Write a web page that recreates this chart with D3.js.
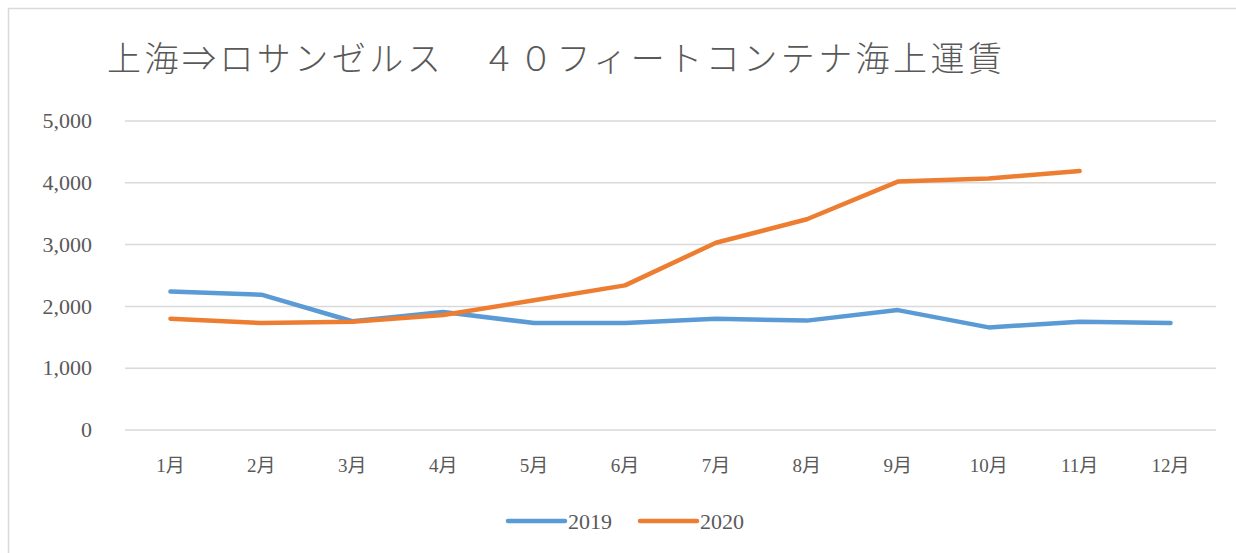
<!DOCTYPE html>
<html><head><meta charset="utf-8">
<script src="https://cdn.jsdelivr.net/npm/d3@7"></script>
<style>body{margin:0;background:#fff}svg{display:block}</style>
</head><body>
<script>
const months = ["1月","2月","3月","4月","5月","6月","7月","8月","9月","10月","11月","12月"];
const s2019 = [2240,2190,1760,1910,1730,1730,1800,1770,1940,1660,1750,1730];
const s2020 = [1800,1730,1750,1860,2100,2340,3030,3410,4020,4070,4190];
const yTicks = [0,1000,2000,3000,4000,5000];
const seriesNames = ["2019","2020"];
const colors = ["#5B9BD5","#ED7D31"];
const title = "上海⇒ロサンゼルス　４０フィートコンテナ海上運賃";

const W=1236,H=553;
const svg=d3.select("body").append("svg").attr("width",W).attr("height",H);
const serif="'Liberation Serif','DejaVu Serif','Noto Sans CJK JP',serif";
const txt="#595959";
svg.append("rect").attr("x",8.5).attr("y",8.5).attr("width",1240).attr("height",560)
  .attr("fill","#fff").attr("stroke","#D9D9D9").attr("stroke-width",1.5);

svg.append("text").attr("x",107).attr("y",71).attr("fill",txt)
  .attr("font-family","'Noto Sans CJK JP',sans-serif").attr("font-weight",300)
  .attr("font-size",34).attr("textLength",895).attr("lengthAdjust","spacing").text(title);

const x=d3.scaleBand().domain(months).range([125,1216]);
const y=d3.scaleLinear().domain([0,5000]).range([430,121]);

const g=svg.append("g");
g.selectAll("line.grid").data(yTicks).join("line").attr("class","grid")
  .attr("x1",125).attr("x2",1216).attr("y1",d=>y(d)).attr("y2",d=>y(d))
  .attr("stroke","#D9D9D9").attr("stroke-width",1.5);
g.selectAll("text.yl").data(yTicks).join("text").attr("class","yl")
  .attr("x",92).attr("y",d=>y(d)).attr("dy","0.33em").attr("text-anchor","end")
  .attr("font-family",serif).attr("font-size",22).attr("fill",txt)
  .text(d=>d3.format(",")(d));
g.selectAll("text.xl").data(months).join("text").attr("class","xl")
  .attr("x",d=>x(d)+x.bandwidth()/2).attr("y",472).attr("text-anchor","middle")
  .attr("font-family",serif).attr("font-size",19).attr("fill",txt).text(d=>d);

const line=d3.line().x((d,i)=>x(months[i])+x.bandwidth()/2).y(d=>y(d));
[s2019,s2020].forEach((s,i)=>{
  g.append("path").datum(s).attr("d",line).attr("fill","none")
   .attr("stroke",colors[i]).attr("stroke-width",4.5)
   .attr("stroke-linecap","round").attr("stroke-linejoin","round");
});

const leg=svg.append("g");
const lx=[508,640];
seriesNames.forEach((n,i)=>{
  leg.append("line").attr("x1",lx[i]).attr("x2",lx[i]+57).attr("y1",521).attr("y2",521)
    .attr("stroke",colors[i]).attr("stroke-width",4.5).attr("stroke-linecap","round");
  leg.append("text").attr("x",lx[i]+60).attr("y",521).attr("dy","0.35em")
    .attr("font-family",serif).attr("font-size",22).attr("fill",txt).text(n);
});
</script>
</body></html>
